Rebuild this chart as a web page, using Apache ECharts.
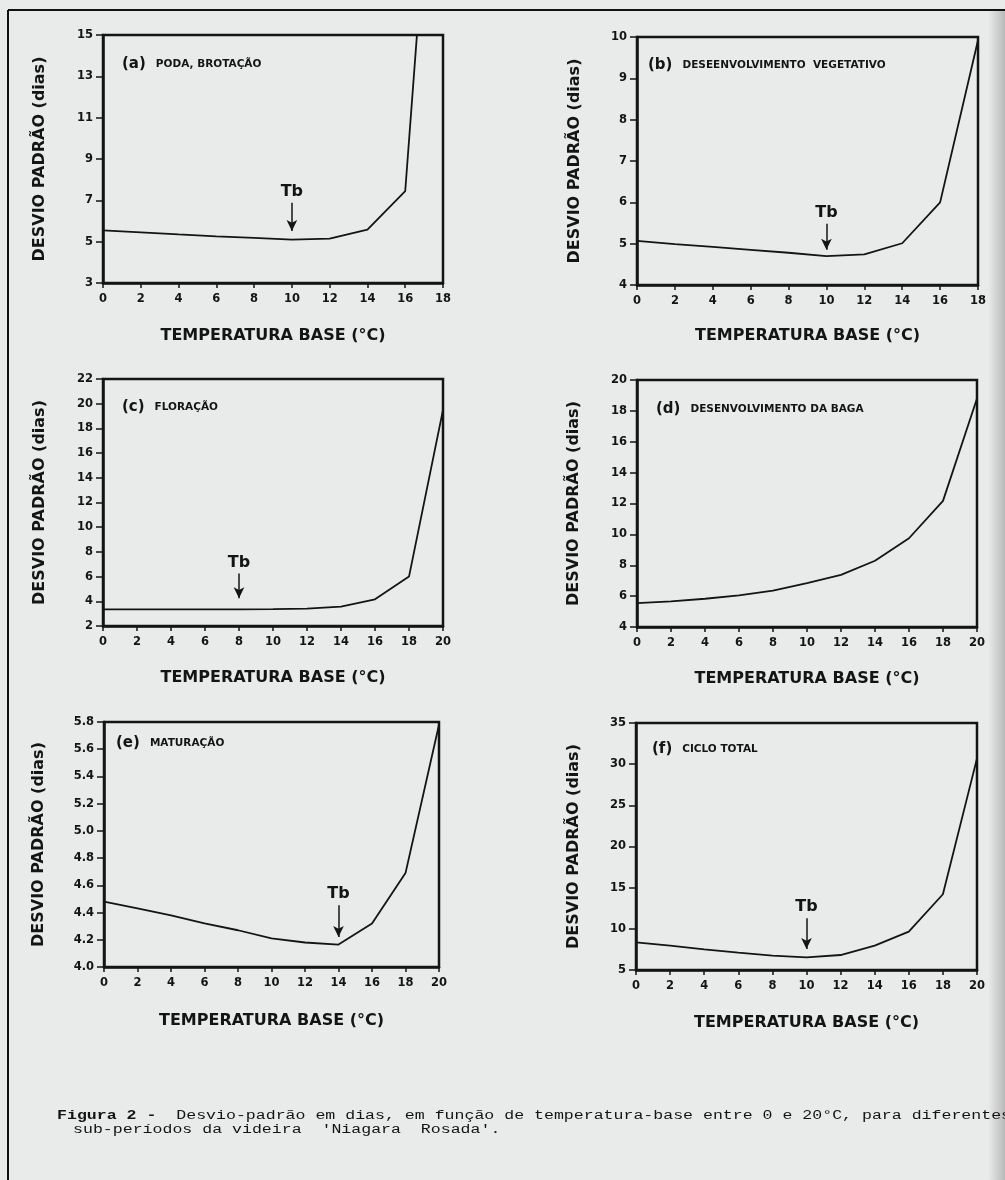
<!DOCTYPE html>
<html>
<head>
<meta charset="utf-8">
<script src="https://cdn.jsdelivr.net/npm/echarts@6/dist/echarts.min.js"></script>
<style>
html,body{margin:0;padding:0;background:#e9eaea;}
#c{width:1005px;height:1180px;}
</style>
</head>
<body>
<div id="c"></div>
<script>
// ---- data ----
var tempA = [0, 2, 4, 6, 8, 10, 12, 14, 16, 18];
var sdA   = [5.55, 5.45, 5.35, 5.26, 5.18, 5.10, 5.15, 5.58, 7.45, 31.8];
var tempB = [0, 2, 4, 6, 8, 10, 12, 14, 16, 18];
var sdB   = [5.07, 4.99, 4.92, 4.85, 4.78, 4.70, 4.74, 5.01, 6.00, 9.92];
var tempC = [0, 2, 4, 6, 8, 10, 12, 14, 16, 18, 20];
var sdC   = [3.35, 3.35, 3.35, 3.35, 3.35, 3.37, 3.40, 3.57, 4.16, 6.00, 19.5];
var tempD = [0, 2, 4, 6, 8, 10, 12, 14, 16, 18, 20];
var sdD   = [5.55, 5.66, 5.83, 6.05, 6.35, 6.84, 7.38, 8.29, 9.75, 12.17, 18.8];
var tempE = [0, 2, 4, 6, 8, 10, 12, 14, 16, 18, 20];
var sdE   = [4.48, 4.43, 4.38, 4.32, 4.27, 4.21, 4.18, 4.165, 4.32, 4.69, 5.78];
var tempF = [0, 2, 4, 6, 8, 10, 12, 14, 16, 18, 20];
var sdF   = [8.36, 7.96, 7.51, 7.10, 6.74, 6.54, 6.82, 7.96, 9.66, 14.2, 30.7];

var panelLetters = ['(a)', '(b)', '(c)', '(d)', '(e)', '(f)'];
var panelNames = ['PODA, BROTAÇÃO', 'DESEENVOLVIMENTO  VEGETATIVO', 'FLORAÇÃO',
                  'DESENVOLVIMENTO DA BAGA', 'MATURAÇÃO', 'CICLO TOTAL'];
// y axis ranges [min, max, interval]
var yMin = [3, 4, 2, 4, 4.0, 5];
var yMax = [15, 10, 22, 20, 5.8, 35];
var yInt = [2, 1, 2, 2, 0.2, 5];
var xMax = [18, 18, 20, 20, 20, 20];
// Tb arrows: [temperature, arrow top, arrow tip] (null = none)
var tbArrows = [[10, 6.88, 5.52], [10, 5.48, 4.85], [8, 6.26, 4.24], null, [14, 4.454, 4.22], [10, 11.28, 7.55]];

var xTitle = 'TEMPERATURA BASE (°C)';
var yTitle = 'DESVIO PADRÃO (dias)';
var captionLine1 = '{b|Figura 2 -}  Desvio-padrão em dias, em função de temperatura-base entre 0 e 20°C, para diferentes';
var captionLine2 = 'sub-períodos da videira  \'Niagara  Rosada\'.';

var temps = [tempA, tempB, tempC, tempD, tempE, tempF];
var sds = [sdA, sdB, sdC, sdD, sdE, sdF];

// ---- layout ----
var grids = [
  {left: 103, top: 35, width: 340, height: 248},
  {left: 637, top: 37, width: 341, height: 248},
  {left: 103, top: 379, width: 340, height: 247},
  {left: 637, top: 380, width: 340, height: 247},
  {left: 104, top: 722, width: 335, height: 245},
  {left: 636, top: 723, width: 341, height: 247}
];
var yNameGap = [55, 54, 55, 55, 57, 54];
var xNameGap = [45, 43, 44, 44, 46, 45];
var titlePos = [[117, 50], [643, 51], [117, 393], [651, 395], [111, 729], [647, 735]];

var FONT = 'DejaVu Sans';
var INK = '#141414';

var option = {
  backgroundColor: '#e9eaea',
  animation: false,
  grid: grids.map(function (g) {
    return Object.assign({show: true, borderColor: INK, borderWidth: 2.5, backgroundColor: 'transparent', containLabel: false}, g);
  }),
  xAxis: grids.map(function (g, i) {
    return {
      type: 'value', gridIndex: i, min: 0, max: xMax[i], interval: 2,
      name: xTitle, nameLocation: 'middle', nameGap: xNameGap[i],
      nameTextStyle: {fontFamily: FONT, fontWeight: 'bold', fontSize: 16, color: INK},
      axisLine: {show: true, lineStyle: {color: INK, width: 2.5}},
      axisTick: {show: true, inside: false, length: 5, lineStyle: {color: INK, width: 1.5}},
      axisLabel: {fontFamily: FONT, fontWeight: 'bold', fontSize: 11.5, color: INK, margin: 10},
      splitLine: {show: false}
    };
  }),
  yAxis: grids.map(function (g, i) {
    return {
      type: 'value', gridIndex: i, min: yMin[i], max: yMax[i], interval: yInt[i],
      name: yTitle, nameLocation: 'middle', nameGap: yNameGap[i],
      nameTextStyle: {fontFamily: FONT, fontWeight: 'bold', fontSize: 16, color: INK},
      axisLine: {show: true, lineStyle: {color: INK, width: 2.5}},
      axisTick: {show: true, inside: false, length: 7, lineStyle: {color: INK, width: 1.5}},
      axisLabel: {
        fontFamily: FONT, fontWeight: 'bold', fontSize: 11.5, color: INK, margin: 10,
        formatter: (i === 4) ? function (v) { return v.toFixed(1); } : function (v) { return String(Math.round(v)); }
      },
      splitLine: {show: false}
    };
  }),
  title: panelLetters.map(function (l, i) {
    return {
      left: titlePos[i][0], top: titlePos[i][1],
      text: '{p|' + l + '}  {n|' + panelNames[i] + '}',
      textStyle: {
        rich: {
          p: {fontFamily: FONT, fontSize: 15, fontWeight: 'bold', color: INK},
          n: {fontFamily: FONT, fontSize: 10.5, fontWeight: 'bold', color: INK}
        }
      }
    };
  }),
  series: temps.map(function (t, i) {
    var s = {
      type: 'line', xAxisIndex: i, yAxisIndex: i,
      data: t.map(function (x, k) { return [x, sds[i][k]]; }),
      showSymbol: false, symbol: 'none', clip: true, smooth: false,
      lineStyle: {color: INK, width: 1.8},
      silent: true
    };
    var tb = tbArrows[i];
    if (tb) {
      s.markLine = {
        silent: true,
        symbol: ['none', 'arrow'],
        symbolSize: [8, 11],
        lineStyle: {color: INK, width: 1.5, type: 'solid'},
        label: {show: true, position: 'start', formatter: 'Tb', distance: 3,
                fontFamily: FONT, fontWeight: 'bold', fontSize: 16, color: INK},
        data: [[{coord: [tb[0], tb[1]]}, {coord: [tb[0], tb[2]]}]]
      };
    }
    return s;
  }),
  graphic: [
    {type: 'line', silent: true, shape: {x1: 8, y1: 10, x2: 8, y2: 1180}, style: {stroke: '#111', lineWidth: 2}},
    {type: 'line', silent: true, shape: {x1: 8, y1: 10, x2: 1005, y2: 10}, style: {stroke: '#111', lineWidth: 2}},
    {type: 'rect', silent: true, shape: {x: 988, y: 11, width: 17, height: 1169},
     style: {fill: new echarts.graphic.LinearGradient(0, 0, 1, 0, [
       {offset: 0, color: 'rgba(180,180,180,0)'}, {offset: 1, color: 'rgba(175,175,175,0.85)'}])}},
    {type: 'text', silent: true, x: 57, y: 1110, scaleX: 1.38,
     style: {text: captionLine1, fontFamily: 'Liberation Mono', fontSize: 12, fill: INK,
             rich: {b: {fontFamily: 'Liberation Mono', fontSize: 12, fontWeight: 'bold', fill: INK}}}},
    {type: 'text', silent: true, x: 73, y: 1124, scaleX: 1.38,
     style: {text: captionLine2, fontFamily: 'Liberation Mono', fontSize: 12, fill: INK}}
  ]
};

var chart = echarts.init(document.getElementById('c'), null, {renderer: 'canvas'});
chart.setOption(option);
</script>
</body>
</html>
